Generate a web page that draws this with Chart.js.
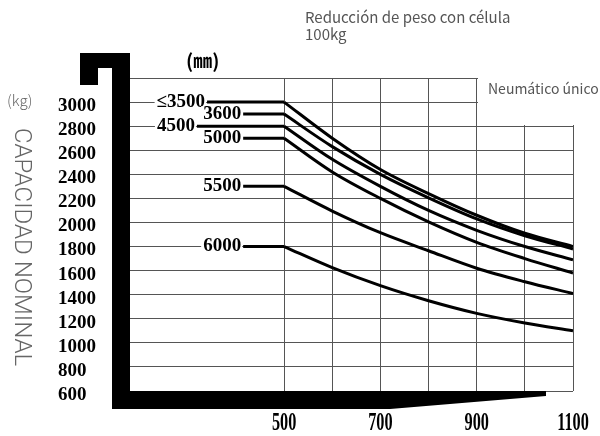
<!DOCTYPE html>
<html><head><meta charset="utf-8">
<script src="https://cdn.jsdelivr.net/npm/chart.js@4/dist/chart.umd.min.js"></script>
<style>html,body{margin:0;padding:0;background:#fff;}canvas{display:block;}</style>
</head><body>
<canvas id="c" width="600" height="436"></canvas>
<script>
// ---- data ----
const loadCenters = [500, 600, 700, 800, 900, 1000, 1100];
const xTickLabels = ['500', '', '700', '', '900', '', '1100'];
const yTickValues = [600, 800, 1000, 1200, 1400, 1600, 1800, 2000, 2200, 2400, 2600, 2800, 3000, 3200];
const yTickLabels = ['600', '800', '1000', '1200', '1400', '1600', '1800', '2000', '2200', '2400', '2600', '2800', '3000', ''];
const liftHeights = ['≤3500', '3600', '4500', '5000', '5500', '6000'];
const flatStart = [340, 415, 319, 415, 415, 415];
const cap3500 = [3000, 2700, 2440, 2240, 2060, 1910, 1800];
const cap3600 = [2900, 2630, 2400, 2205, 2030, 1890, 1780];
const cap4500 = [2800, 2525, 2300, 2100, 1935, 1800, 1690];
const cap5000 = [2700, 2420, 2200, 2005, 1835, 1700, 1580];
const cap5500 = [2300, 2095, 1915, 1765, 1620, 1508, 1410];
const cap6000 = [1800, 1625, 1475, 1350, 1245, 1165, 1100];
const series = [cap3500, cap3600, cap4500, cap5000, cap5500, cap6000];

const datasets = [];
series.forEach((vals, i) => {
  datasets.push({
    label: liftHeights[i], isFlat: true,
    data: [{x: flatStart[i], y: vals[0]}, {x: loadCenters[0], y: vals[0]}],
    borderColor: '#000', borderWidth: 3, pointRadius: 0, tension: 0
  });
  datasets.push({
    label: liftHeights[i] + ' curve', isFlat: false,
    data: loadCenters.map((x, j) => ({x: x, y: vals[j]})),
    borderColor: '#000', borderWidth: 3, pointRadius: 0, cubicInterpolationMode: 'monotone'
  });
});

const labelFont = 'bold 19px "Liberation Serif", serif';

const decor = {
  id: 'decor',
  beforeDatasetsDraw(chart) {
    const {ctx, chartArea: a, scales: {x, y}} = chart;
    ctx.save();
    ctx.fillStyle = '#fff';
    const nx = Math.round(x.getPixelForValue(900)) + 1;
    const ny = Math.round(y.getPixelForValue(2800)) - 1;
    ctx.fillRect(nx, a.top - 3, a.right - nx + 3, ny - a.top + 3);
    ctx.restore();
  },
  afterDatasetsDraw(chart) {
    const {ctx, chartArea: a, scales: {x, y}} = chart;
    ctx.save();
    // curve labels
    ctx.font = labelFont;
    ctx.textAlign = 'right';
    ctx.textBaseline = 'middle';
    chart.data.datasets.forEach((ds, idx) => {
      if (!ds.isFlat) return;
      const p = chart.getDatasetMeta(idx).data[0];
      const tx = p.x - 2;
      const w = ctx.measureText(ds.label).width;
      ctx.fillStyle = '#fff';
      ctx.fillRect(tx - w - 2, p.y - 8, w + 3, 16);
      ctx.fillStyle = '#000';
      ctx.fillText(ds.label, tx, p.y);
    });
    // black frame
    ctx.fillStyle = '#000';
    const L = a.left, B = a.bottom, T = a.top;
    ctx.fillRect(L - 18, T - 25, 18, B - T + 25 + 18);
    ctx.fillRect(L - 50, T - 25, 50, 15);
    ctx.fillRect(L - 50, T - 25, 18, 32);
    ctx.beginPath();
    ctx.moveTo(L - 18, B);
    ctx.lineTo(L + 416, B);
    ctx.lineTo(L + 416, B + 5);
    ctx.lineTo(L + 260, B + 18);
    ctx.lineTo(L - 18, B + 18);
    ctx.closePath();
    ctx.fill();
    // x tick labels (condensed)
    ctx.font = 'bold 25px "Liberation Serif", serif';
    ctx.textAlign = 'center';
    ctx.textBaseline = 'alphabetic';
    loadCenters.forEach((v, i) => {
      if (!xTickLabels[i]) return;
      ctx.save();
      ctx.translate(x.getPixelForValue(v), 430);
      ctx.scale(0.65, 1);
      ctx.fillText(xTickLabels[i], 0, 0);
      ctx.restore();
    });
    // texts
    ctx.textAlign = 'left';
    ctx.fillStyle = '#000';
    ctx.font = 'bold 19px "Noto Sans CJK SC", sans-serif';
    ctx.fillText('(㎜)', 186, 68);
    ctx.fillStyle = '#555';
    ctx.font = '15px "Noto Sans CJK SC", "Noto Sans", sans-serif';
    ctx.fillText('Reducción de peso con célula', 305, 23);
    ctx.fillText('100kg', 305, 40);
    ctx.font = '14px "Noto Sans CJK SC", "Noto Sans", sans-serif';
    ctx.fillText('Neumático único', 488, 94);
    ctx.fillStyle = '#666';
    ctx.font = '300 15px "Noto Sans CJK SC", "Noto Sans", sans-serif';
    ctx.textBaseline = 'middle';
    ctx.fillText('(kg)', 7, 100);
    ctx.translate(21, 128);
    ctx.rotate(Math.PI / 2);
    ctx.font = '300 24px Roboto, sans-serif';
    ctx.fillText('CAPACIDAD NOMINAL', 0, 0);
    ctx.restore();
  }
};

new Chart(document.getElementById('c'), {
  type: 'line',
  data: {datasets},
  options: {
    responsive: false, animation: false, devicePixelRatio: 1,
    layout: {padding: {left: 58, top: 78, right: 27, bottom: 0}},
    plugins: {legend: {display: false}, tooltip: {enabled: false}},
    scales: {
      x: {
        type: 'linear', min: 180, max: 1100,
        afterBuildTicks: s => { s.ticks = loadCenters.map(v => ({value: v})); },
        afterFit: s => { s.height = 45; s.paddingLeft = 0; s.paddingRight = 0; },
        grid: {color: '#555', lineWidth: 1, drawTicks: false},
        border: {display: false},
        ticks: {display: false}
      },
      y: {
        type: 'linear', min: 600, max: 3200,
        afterBuildTicks: s => { s.ticks = yTickValues.map(v => ({value: v})); },
        afterFit: s => { s.width = 72; s.paddingTop = 0; s.paddingBottom = 0; },
        grid: {color: '#555', lineWidth: 1, drawTicks: false},
        border: {display: false},
        ticks: {
          crossAlign: 'far', padding: 0, color: '#000', labelOffset: 4, autoSkip: false,
          font: {family: '"Liberation Serif", serif', weight: 'bold', size: 19},
          callback: v => { const i = yTickValues.indexOf(v); return i >= 0 ? yTickLabels[i] : ''; }
        }
      }
    }
  },
  plugins: [decor]
});
</script>
</body></html>
